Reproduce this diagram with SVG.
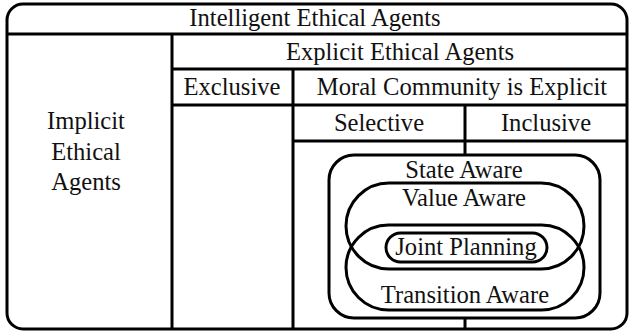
<svg xmlns="http://www.w3.org/2000/svg" width="631" height="334" viewBox="0 0 631 334">
<style>
.ln{stroke:#000;stroke-width:3;fill:none}
.t{font-family:'Liberation Serif','Times New Roman',serif;font-size:24.6px;fill:#111;text-anchor:middle}
</style>
<rect width="631" height="334" fill="#fff"/>
<g id="outer">
<rect class="ln" x="7" y="4" width="620" height="325" rx="16" ry="16"/>
<text class="t" x="315" y="26">Intelligent Ethical Agents</text>
</g>
<g id="grid-lines">
<line class="ln" x1="7" y1="34" x2="627" y2="34"/>
<line class="ln" x1="172" y1="34" x2="172" y2="329"/>
<line class="ln" x1="172" y1="69" x2="627" y2="69"/>
<line class="ln" x1="293" y1="69" x2="293" y2="329"/>
<line class="ln" x1="172" y1="105" x2="627" y2="105"/>
<line class="ln" x1="293" y1="141" x2="627" y2="141"/>
<line class="ln" x1="465" y1="105" x2="465" y2="155"/>
<line class="ln" x1="465" y1="318" x2="465" y2="329"/>
</g>
<g id="implicit"><text class="t" x="86" y="129">Implicit</text><text class="t" x="86" y="160">Ethical</text><text class="t" x="86" y="190">Agents</text></g>
<g id="explicit"><text class="t" x="400" y="60">Explicit Ethical Agents</text></g>
<g id="exclusive"><text class="t" x="232" y="95">Exclusive</text></g>
<g id="moral"><text class="t" x="462" y="95">Moral Community is Explicit</text></g>
<g id="selective"><text class="t" x="379" y="131">Selective</text></g>
<g id="inclusive"><text class="t" x="546" y="131">Inclusive</text></g>
<g id="state-aware">
<rect class="ln" x="329" y="155" width="271" height="163" rx="25" ry="25"/>
<text class="t" x="464" y="178">State Aware</text>
</g>
<g id="value-aware">
<rect class="ln" x="346" y="183" width="238" height="86" rx="43" ry="43"/>
<text class="t" x="464" y="206">Value Aware</text>
</g>
<g id="transition-aware">
<rect class="ln" x="346" y="225" width="238" height="85" rx="42.5" ry="42.5"/>
<text class="t" x="465" y="303">Transition Aware</text>
</g>
<g id="joint-planning">
<rect class="ln" x="386" y="233" width="161" height="29" rx="14.5" ry="14.5"/>
<text class="t" x="466" y="255">Joint Planning</text>
</g>
</svg>
